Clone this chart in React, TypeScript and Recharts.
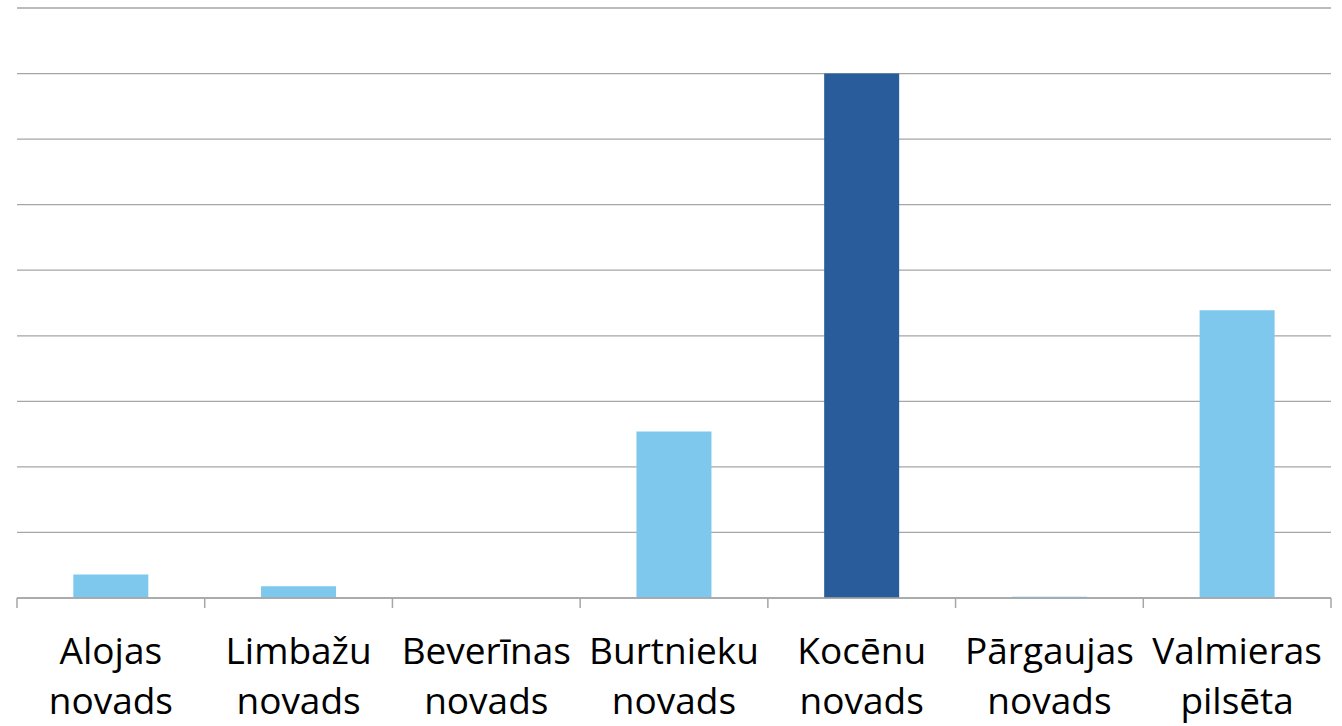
import { BarChart, Bar, XAxis, YAxis, CartesianGrid, Cell } from 'recharts';

const regions = [
  'Alojas novads',
  'Limbažu novads',
  'Beverīnas novads',
  'Burtnieku novads',
  'Kocēnu novads',
  'Pārgaujas novads',
  'Valmieras pilsēta',
];
const values = [0.36, 0.18, 0, 2.54, 8.0, 0.02, 4.39];
const highlighted = ['Kocēnu novads'];
const yTicks = [0, 1, 2, 3, 4, 5, 6, 7, 8, 9];

const data = regions.map((name, i) => ({ name, value: values[i] }));

const LIGHT = '#7ec8ee';
const DARK = '#285c9b';
const GRID = '#a6a6a6';

function RegionTick(props: any) {
  const { x, y, payload, index, width } = props;
  const band = (width ?? 1314) / regions.length;
  const [first, ...rest] = String(payload.value).split(' ');
  const top = y - 8;
  return (
    <g>
      <line x1={x - band / 2} x2={x - band / 2} y1={top} y2={top + 10} stroke={GRID} strokeWidth={1.5} />
      {index === regions.length - 1 && (
        <line x1={x + band / 2} x2={x + band / 2} y1={top} y2={top + 10} stroke={GRID} strokeWidth={1.5} />
      )}
      <text x={x} y={top + 66} textAnchor="middle" fill="#000" fontSize={37} fontFamily="'Open Sans', sans-serif">
        <tspan x={x}>{first}</tspan>
        <tspan x={x} dy={50}>{rest.join(' ')}</tspan>
      </text>
    </g>
  );
}

export default function App() {
  return (
    <div style={{ position: 'absolute', left: 0, top: 0, background: '#fff' }}>
      <BarChart
        width={1342}
        height={726}
        data={data}
        margin={{ top: 8, right: 11, left: 17, bottom: 0 }}
        barCategoryGap="30%"
      >
        <CartesianGrid vertical={false} stroke={GRID} strokeWidth={1.3} />
        <YAxis hide domain={[0, 9]} ticks={yTicks} interval={0} />
        <XAxis
          dataKey="name"
          height={128}
          interval={0}
          tickLine={false}
          axisLine={{ stroke: GRID, strokeWidth: 1.5 }}
          tick={<RegionTick />}
        />
        <Bar dataKey="value" isAnimationActive={false}>
          {data.map((d, i) => (
            <Cell key={`c-${i}`} fill={highlighted.includes(d.name) ? DARK : LIGHT} />
          ))}
        </Bar>
      </BarChart>
    </div>
  );
}
